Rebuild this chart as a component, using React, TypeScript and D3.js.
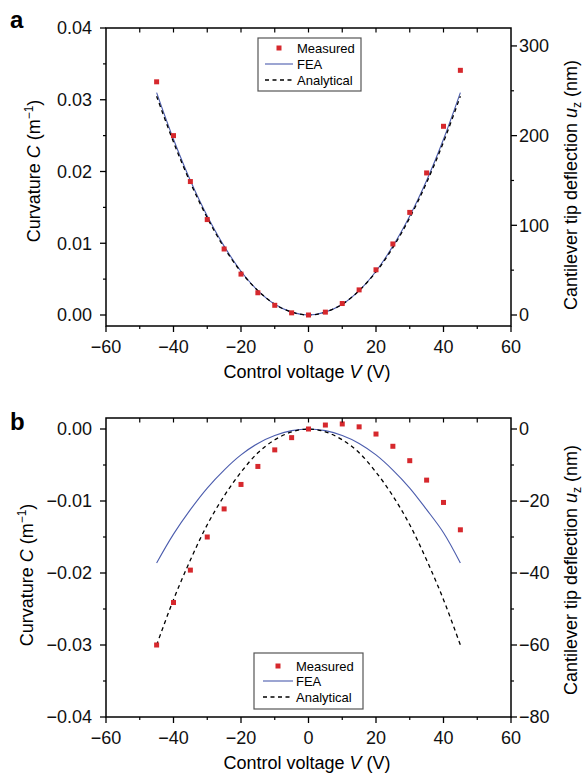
import React from 'react';
import { scaleLinear, line, curveCatmullRom, format } from 'd3';

// control voltage (V) for every sample
const voltages = [-45, -40, -35, -30, -25, -20, -15, -10, -5, 0, 5, 10, 15, 20, 25, 30, 35, 40, 45];

// panel a : curvature C (1/m)
const measuredA = [0.0325, 0.0250, 0.0186, 0.0133, 0.0092, 0.0057, 0.0031, 0.00135, 0.0003, 0, 0.0004, 0.0016, 0.0035, 0.0063, 0.0099, 0.0143, 0.0198, 0.0263, 0.0341];
const feaA = [0.0310, 0.0245, 0.01875, 0.0138, 0.0096, 0.0061, 0.0034, 0.0015, 0.0004, 0, 0.0004, 0.0015, 0.0034, 0.0061, 0.0096, 0.0138, 0.01875, 0.0245, 0.0310];
const analyticalA = [0.0305, 0.0241, 0.01845, 0.01355, 0.0094, 0.0060, 0.0034, 0.0015, 0.0004, 0, 0.0004, 0.0015, 0.0034, 0.0060, 0.0094, 0.01355, 0.01845, 0.0241, 0.0305];

// panel b
const measuredB = [-0.0300, -0.0241, -0.0196, -0.0150, -0.0111, -0.0077, -0.0052, -0.0029, -0.0012, 0, 0.00055, 0.0007, 0.0003, -0.0007, -0.0024, -0.0044, -0.0071, -0.0102, -0.0140];
const feaB = [-0.0186, -0.0146, -0.0112, -0.0082, -0.0057, -0.0036, -0.0020, -0.0009, -0.00023, 0, -0.00023, -0.0009, -0.0020, -0.0036, -0.0057, -0.0082, -0.0112, -0.0144, -0.0186];
const analyticalB = [-0.0300, -0.0237, -0.0182, -0.0133, -0.0093, -0.0060, -0.0033, -0.0015, -0.0004, 0, -0.0004, -0.0015, -0.0033, -0.0060, -0.0093, -0.0133, -0.0182, -0.0237, -0.0300];

// ticks
const xTicks = [-60, -40, -20, 0, 20, 40, 60];
const xMinor = [-50, -30, -10, 10, 30, 50];
const topTicks = [-50, -40, -30, -20, -10, 0, 10, 20, 30, 40, 50];
const leftTicksA = [0, 0.01, 0.02, 0.03, 0.04];
const leftMinorA = [0.005, 0.015, 0.025, 0.035];
const rightTicksA = [0, 100, 200, 300];
const rightMinorA = [50, 150, 250];
const leftTicksB = [-0.04, -0.03, -0.02, -0.01, 0];
const leftMinorB = [-0.035, -0.025, -0.015, -0.005];
const rightTicksB = [-80, -60, -40, -20, 0];
const rightMinorB = [-70, -50, -30, -10];

const FONT = '"Liberation Sans", Arial, Helvetica, sans-serif';
const RED = '#d6282d';
const BLUE = '#4b5cad';

const fmtC = format('.2f');
const fmtU = format('d');

function Panel(props: any) {
  const { top, bottom, zeroY, cDomain, uDomain, measured, fea, analytical, leftTicks, leftMinor,
    rightTicks, rightMinor, legend, letter, letterY, leftLabel, rightLabel, xLabelY } = props;
  const left = 106, right = 511;
  const x = scaleLinear().domain([-60, 60]).range([left, right]);
  const y = scaleLinear().domain(cDomain).range(zeroY);
  const yr = scaleLinear().domain(uDomain).range(zeroY);

  const path = line<number>()
    .x((_, i) => x(voltages[i]))
    .y(d => y(d))
    .curve(curveCatmullRom);

  const tickLabel = { fontFamily: FONT, fontSize: 18, fill: '#111' };

  return (
    <g>
      <text x={10} y={letterY} style={{ fontFamily: FONT, fontSize: 24, fontWeight: 'bold' }}>{letter}</text>

      {/* data */}
      <path d={path(fea) || ''} fill="none" stroke={BLUE} strokeWidth={1.1} />
      <path d={path(analytical) || ''} fill="none" stroke="#000" strokeWidth={1.3} strokeDasharray="4,3.5" />
      {measured.map((d: number, i: number) => (
        <rect key={i} x={x(voltages[i]) - 2.5} y={y(d) - 2.5} width={5} height={5} fill={RED} />
      ))}

      {/* frame */}
      <rect x={left} y={top} width={right - left} height={bottom - top} fill="none" stroke="#000" strokeWidth={1.5} />

      {/* bottom axis */}
      {xTicks.map(t => (
        <g key={'xb' + t}>
          <line x1={x(t)} x2={x(t)} y1={bottom} y2={bottom + 6} stroke="#000" strokeWidth={1.3} />
          <text x={x(t)} y={bottom + 27} textAnchor="middle" style={tickLabel}>{fmtU(t)}</text>
        </g>
      ))}
      {xMinor.map(t => (
        <line key={'xm' + t} x1={x(t)} x2={x(t)} y1={bottom} y2={bottom + 3} stroke="#000" strokeWidth={1.2} />
      ))}
      {topTicks.map(t => (
        <line key={'xt' + t} x1={x(t)} x2={x(t)} y1={top} y2={top + 4.5} stroke="#000" strokeWidth={1.2} />
      ))}

      {/* left axis */}
      {leftTicks.map((t: number) => (
        <g key={'yl' + t}>
          <line x1={left - 6} x2={left} y1={y(t)} y2={y(t)} stroke="#000" strokeWidth={1.3} />
          <text x={92} y={y(t)} dy="0.36em" textAnchor="end" style={tickLabel}>{fmtC(t)}</text>
        </g>
      ))}
      {leftMinor.map((t: number) => (
        <line key={'ylm' + t} x1={left - 3} x2={left} y1={y(t)} y2={y(t)} stroke="#000" strokeWidth={1.2} />
      ))}

      {/* right axis */}
      {rightTicks.map((t: number) => (
        <g key={'yr' + t}>
          <line x1={right} x2={right + 6} y1={yr(t)} y2={yr(t)} stroke="#000" strokeWidth={1.3} />
          <text x={519} y={yr(t)} dy="0.36em" textAnchor="start" style={tickLabel}>{fmtU(t)}</text>
        </g>
      ))}
      {rightMinor.map((t: number) => (
        <line key={'yrm' + t} x1={right} x2={right + 3} y1={yr(t)} y2={yr(t)} stroke="#000" strokeWidth={1.2} />
      ))}

      {/* axis titles */}
      <text x={307} y={xLabelY} textAnchor="middle" style={{ fontFamily: FONT, fontSize: 18 }}>
        Control voltage <tspan fontStyle="italic">V</tspan> (V)
      </text>
      <text transform={`translate(${leftLabel[0]},${leftLabel[1]}) rotate(-90)`} textAnchor="middle"
        style={{ fontFamily: FONT, fontSize: 18 }}>
        Curvature <tspan fontStyle="italic">C</tspan> (m<tspan fontSize={12} dy={-7}>−1</tspan><tspan dy={7}>)</tspan>
      </text>
      <text transform={`translate(${rightLabel[0]},${rightLabel[1]}) rotate(-90)`} textAnchor="middle"
        style={{ fontFamily: FONT, fontSize: 18 }}>
        Cantilever tip deflection <tspan fontStyle="italic">u</tspan><tspan fontSize={12} dy={4}>z</tspan><tspan dy={-4}> (nm)</tspan>
      </text>

      {/* legend */}
      <g>
        <rect x={legend.x0} y={legend.y0} width={legend.x1 - legend.x0} height={legend.y1 - legend.y0}
          fill="#fff" stroke="#555" strokeWidth={1.2} />
        {legend.rows.map((ry: number, i: number) => (
          <g key={'lg' + i}>
            {i === 0 && <rect x={legend.mx - 2.5} y={ry - 2.5} width={5} height={5} fill={RED} />}
            {i === 1 && <line x1={legend.lx0} x2={legend.lx1} y1={ry} y2={ry} stroke={BLUE} strokeWidth={1.1} />}
            {i === 2 && <line x1={legend.lx0} x2={legend.lx1} y1={ry} y2={ry} stroke="#000" strokeWidth={1.3} strokeDasharray="4,3.5" />}
            <text x={legend.tx} y={ry} dy="0.36em" style={{ fontFamily: FONT, fontSize: 13 }}>
              {['Measured', 'FEA', 'Analytical'][i]}
            </text>
          </g>
        ))}
      </g>
    </g>
  );
}

export default function App() {
  return (
    <svg width={583} height={775} style={{ position: 'absolute', left: 0, top: 0, background: '#fff' }}>
      <Panel
        top={28} bottom={326} zeroY={[315, 28]}
        cDomain={[0, 0.04]} uDomain={[0, 320]}
        measured={measuredA} fea={feaA} analytical={analyticalA}
        leftTicks={leftTicksA} leftMinor={leftMinorA}
        rightTicks={rightTicksA} rightMinor={rightMinorA}
        legend={{ x0: 258, x1: 361, y0: 38, y1: 91, rows: [48, 64, 80], mx: 279, lx0: 265, lx1: 293, tx: 297 }}
        letter="a" letterY={28} leftLabel={[40, 171]} rightLabel={[577, 185]} xLabelY={378}
      />
      <Panel
        top={418} bottom={717} zeroY={[717, 429]}
        cDomain={[-0.04, 0]} uDomain={[-80, 0]}
        measured={measuredB} fea={feaB} analytical={analyticalB}
        leftTicks={leftTicksB} leftMinor={leftMinorB}
        rightTicks={rightTicksB} rightMinor={rightMinorB}
        legend={{ x0: 254, x1: 363, y0: 653, y1: 709, rows: [666, 681, 697], mx: 278, lx0: 263, lx1: 293, tx: 296 }}
        letter="b" letterY={430} leftLabel={[33, 575]} rightLabel={[577, 570]} xLabelY={769}
      />
    </svg>
  );
}
